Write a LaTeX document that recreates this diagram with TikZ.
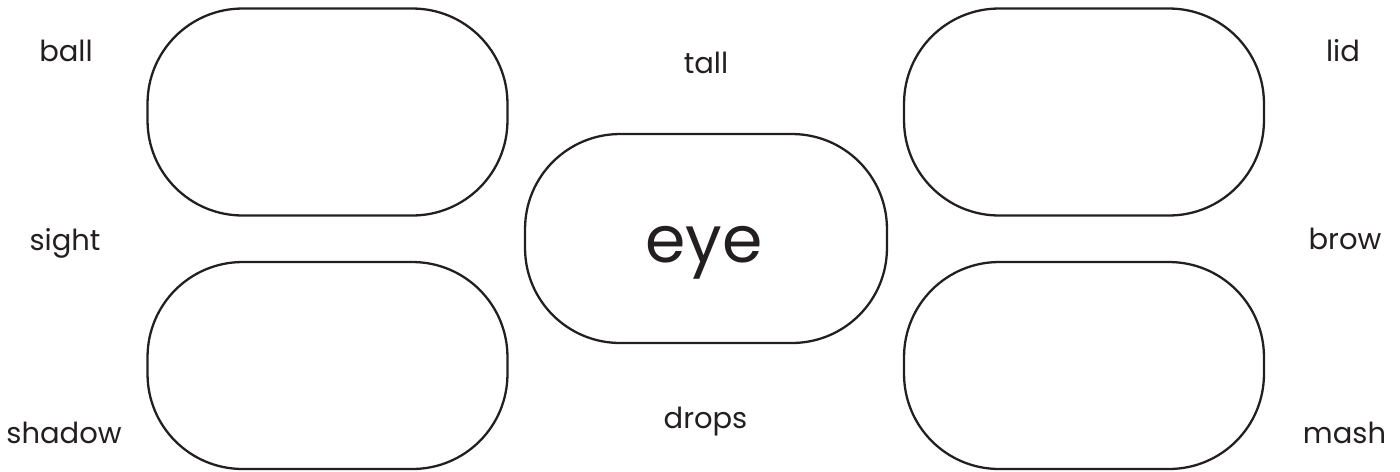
\documentclass[tikz,border=0pt]{standalone}
\usepackage{fontspec}
\setmainfont{Poppins}
\definecolor{ink}{HTML}{231F20}
\tikzset{
  blob/.style={draw=ink, line width=1.3pt, rounded corners=1.9cm,
               minimum width=7.2cm, minimum height=4.14cm, inner sep=0pt},
  word/.style={anchor=base, text=ink, font=\fontsize{16.5}{18}\selectfont},
}
\begin{document}
\begin{tikzpicture}[x=0.02cm, y=-0.02cm]
    \useasboundingbox (0,0) rectangle (1400,471);

    \node[blob] (boxTL) at (327.5,112) {};
    \node[blob] (boxBL) at (327.5,365.5) {};
    \node[blob] (boxTR) at (1084,112) {};
    \node[blob] (boxBR) at (1084,365.5) {};
    \node[blob, minimum width=7.24cm, minimum height=4.18cm] (eyebox) at (706,238.5) {};

    \node[word, font=\fontsize{37}{40}\selectfont] (eye) at (704,262) {eye};
    \node[word] (ball)   at (66,61)    {ball};
    \node[word] (sight)  at (65,250)   {sight};
    \node[word] (shadow) at (64,443)   {shadow};
    \node[word] (tall)   at (706,73)   {tall};
    \node[word] (drops)  at (705.5,428) {drops};
    \node[word] (lid)    at (1343,61)  {lid};
    \node[word] (brow)   at (1345,249) {brow};
    \node[word] (mash)   at (1344.5,443) {mash};
\end{tikzpicture}
\end{document}
